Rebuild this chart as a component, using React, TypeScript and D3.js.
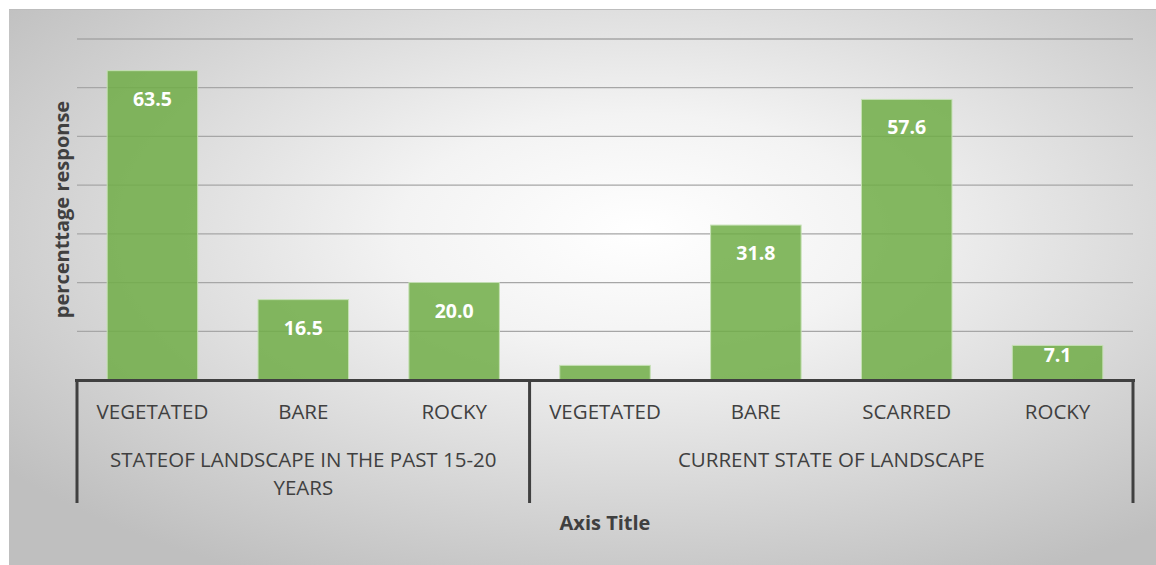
import React from "react";
import * as d3 from "d3";

const categories = ["VEGETATED", "BARE", "ROCKY", "VEGETATED", "BARE", "SCARRED", "ROCKY"];
const values = [63.5, 16.5, 20.0, 3.0, 31.8, 57.6, 7.1];
const showLabel = [true, true, true, false, true, true, true];
const groups = [
  { lines: ["STATEOF LANDSCAPE IN THE PAST 15-20", "YEARS"], start: 0, end: 3 },
  { lines: ["CURRENT STATE OF LANDSCAPE"], start: 3, end: 7 },
];
const yTicks = [0, 10, 20, 30, 40, 50, 60, 70];
const xTitle = "Axis Title";
const yTitle = "percenttage response";

const W = 1156;
const H = 565;
const FONT = "'Open Sans', sans-serif";

export default function App() {
  const left = 77;
  const right = 1133;
  const top = 39;
  const bottom = 380;
  const idx = categories.map((_, i) => i);
  const x = d3.scaleBand<number>().domain(idx).range([left, right]).paddingInner(0.4).paddingOuter(0.2);
  const step = x.step();
  const y = d3.scaleLinear().domain([0, 70]).range([bottom, top]);
  const cellLeft = (i: number) => left + i * step;

  return (
    <svg width={W} height={H} style={{ position: "absolute", left: 0, top: 0 }}>
      <defs>
        <radialGradient id="bg" cx="55%" cy="40%" r="70%">
          <stop offset="0" stopColor="#ffffff" />
          <stop offset="0.3" stopColor="#f3f3f3" />
          <stop offset="1" stopColor="#bfbfbf" />
        </radialGradient>
      </defs>
      <rect x={0} y={0} width={W} height={H} fill="#ffffff" />
      <rect x={9} y={9} width={W - 9} height={H - 9} fill="url(#bg)" />
      <line x1={9} x2={W} y1={9.5} y2={9.5} stroke="#bdbdbd" strokeWidth={1} />

      {yTicks.slice(1).map((t) => (
        <line key={t} x1={left} x2={right} y1={y(t)} y2={y(t)} stroke="#a6a6a6" strokeWidth={1.3} />
      ))}

      {values.map((v, i) => {
        const h = y(0) - y(v);
        return (
          <g key={i}>
            <rect
              x={x(i)}
              y={y(v)}
              width={x.bandwidth()}
              height={h}
              fill="#70ad47"
              fillOpacity={0.85}
              stroke="#c5e0b4"
              strokeWidth={1}
            />
            {showLabel[i] && (
              <text
                x={(x(i) as number) + x.bandwidth() / 2}
                y={y(v) + (h > 45 ? 35 : 17)}
                textAnchor="middle"
                fill="#ffffff"
                fontFamily={FONT}
                fontWeight="bold"
                fontSize={19.5}
              >
                {v.toFixed(1)}
              </text>
            )}
          </g>
        );
      })}

      {/* axis baseline */}
      <line x1={left - 2} x2={right + 2} y1={bottom + 0.5} y2={bottom + 0.5} stroke="#404040" strokeWidth={3} />
      {/* group dividers */}
      {[0, 3, 7].map((b) => (
        <line key={b} x1={cellLeft(b)} x2={cellLeft(b)} y1={bottom} y2={503} stroke="#404040" strokeWidth={3} />
      ))}

      {categories.map((c, i) => (
        <text
          key={i}
          x={cellLeft(i) + step / 2}
          y={419}
          textAnchor="middle"
          fill="#404040"
          fontFamily={FONT}
          fontSize={20.5}
        >
          {c}
        </text>
      ))}

      {groups.map((g, gi) => {
        const cx = (cellLeft(g.start) + cellLeft(g.end)) / 2;
        return (
          <text key={gi} textAnchor="middle" fill="#404040" fontFamily={FONT} fontSize={20.5}>
            {g.lines.map((l, li) => (
              <tspan key={li} x={cx} y={467 + li * 28}>
                {l}
              </tspan>
            ))}
          </text>
        );
      })}

      <text
        x={(left + right) / 2}
        y={530}
        textAnchor="middle"
        fill="#404040"
        fontFamily={FONT}
        fontWeight="bold"
        fontSize={20}
      >
        {xTitle}
      </text>
      <text
        transform={`translate(69, ${(top + bottom) / 2}) rotate(-90)`}
        textAnchor="middle"
        fill="#404040"
        fontFamily={FONT}
        fontWeight="bold"
        fontSize={20}
      >
        {yTitle}
      </text>
    </svg>
  );
}
